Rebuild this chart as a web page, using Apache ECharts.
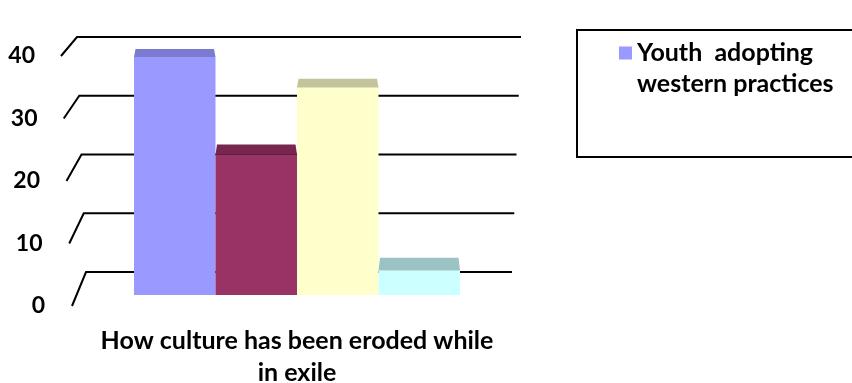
<!DOCTYPE html>
<html>
<head>
<meta charset="utf-8">
<script src="https://cdn.jsdelivr.net/npm/echarts@6/dist/echarts.min.js"></script>
<style>
html,body{margin:0;padding:0;background:#fff;}
#c{width:852px;height:383px;}
</style>
</head>
<body>
<div id="c"></div>
<script>
// ---- data ----
const categories = ['How culture has been eroded while\nin exile'];
const seriesNames = ['Youth  adopting western practices', 'Series 2', 'Series 3', 'Series 4'];
const values = [39, 23, 34, 4];
const yTicks = [0, 10, 20, 30, 40];
const legendShown = ['Youth  adopting western practices'];

// ---- styles ----
const frontColors = ['#9999ff', '#993366', '#ffffcc', '#ccffff'];
const topColors = ['#7b7bd2', '#76264f', '#c4c49c', '#9cc3c3'];
const FONT = 'Lato';
const yMax = 40;

const chart = echarts.init(document.getElementById('c'), null, {renderer: 'canvas'});

const richY = {};
yTicks.forEach(v => {
  richY['p' + v] = {fontFamily: FONT, fontWeight: 'bold', fontSize: 23, color: '#000',
    padding: [0, (v / yMax) * 10, 0, 0]};
});

const option = {
  animation: false,
  backgroundColor: '#fff',
  grid: [
    {left: 80, right: 330, top: 37, bottom: 111, show: false, outerBoundsMode: 'none', containLabel: false},   // back wall
    {left: 46, right: 330, top: 56, bottom: 77, show: false, outerBoundsMode: 'none', containLabel: false},    // front plane (labels)
    {left: 134, right: 392, top: 51, bottom: 88, show: false, outerBoundsMode: 'none', containLabel: false}    // bar plane
  ],
  xAxis: [
    {gridIndex: 0, type: 'category', data: categories, show: false},
    {gridIndex: 1, type: 'category', data: categories, show: false},
    {gridIndex: 2, type: 'category', data: categories,
      axisLine: {show: false}, axisTick: {show: false},
      axisLabel: {margin: 30, fontFamily: FONT, fontWeight: 'bold', fontSize: 25,
        lineHeight: 32, color: '#000', align: 'center'}}
  ],
  yAxis: [
    {gridIndex: 0, type: 'value', min: 0, max: yMax, interval: 10, show: false},
    {gridIndex: 1, type: 'value', min: 0, max: yMax, interval: 10,
      axisLine: {show: false}, axisTick: {show: false}, splitLine: {show: false},
      axisLabel: {margin: 1, formatter: v => '{p' + v + '|' + v + '}', rich: richY}},
    {gridIndex: 2, type: 'value', min: 0, max: yMax, interval: 10, show: false}
  ],
  legend: {
    data: legendShown,
    left: 619, top: 37, padding: 0,
    itemWidth: 13, itemHeight: 43,
    icon: 'path://M0,0L10,0L10,10L0,10Z M0,33L0.01,33L0.01,33.01Z',
    formatter: n => n.replace(' western', '\nwestern'),
    textStyle: {fontFamily: FONT, fontWeight: 'bold', fontSize: 25, lineHeight: 31, color: '#000'},
    selectedMode: false
  },
  series: seriesNames.map((name, i) => ({
    name: name,
    type: 'bar',
    xAxisIndex: 2, yAxisIndex: 2,
    barGap: '0%', barCategoryGap: '0%',
    data: [values[i]],
    itemStyle: {color: frontColors[i]},
    silent: true
  })).concat([{
    type: 'custom',
    xAxisIndex: 2, yAxisIndex: 2,
    silent: true,
    z: 3,
    data: values.map((v, i) => [0, v, i]),
    encode: {x: 0, y: 1},
    renderItem: function (params, api) {
      const cat = api.value(0), v = api.value(1), idx = api.value(2);
      const top = api.coord([cat, v]);
      const base = api.coord([cat, 0]);
      const maxP = api.coord([cat, yMax]);
      const band = api.size([1, 0])[0];
      const w = band / seriesNames.length;
      const x0 = top[0] - band / 2 + idx * w, x1 = x0 + w;
      const frac = (base[1] - top[1]) / (base[1] - maxP[1]);
      const d = 13.5 + (7.9 - 13.5) * frac;
      const inset = 1.5;
      return {
        type: 'polygon',
        shape: {points: [[x0, top[1]], [x1, top[1]], [x1 - inset, top[1] - d], [x0 + inset, top[1] - d]]},
        style: {fill: topColors[idx]}
      };
    }
  }])
};
chart.setOption(option);

// gridlines on the back wall with slanted left parts (positions from the axes)
const lerp = (a, b, t) => a + (b - a) * t;
const graphics = [];
yTicks.forEach(v => {
  const yb = chart.convertToPixel({yAxisIndex: 0}, v);
  const yf = chart.convertToPixel({yAxisIndex: 1}, v);
  const t = v / yMax;
  const xf = lerp(72, 61, t), xb = lerp(86, 77, t), xr = lerp(512, 521, t);
  graphics.push({
    type: 'polyline', z: 0, silent: true,
    shape: {points: [[xf, yf], [xb, yb], [xr, yb]]},
    style: {stroke: '#000', lineWidth: 2, fill: null}
  });
});
graphics.push({
  type: 'rect', z: 0, silent: true,
  shape: {x: 577, y: 30, width: 300, height: 127},
  style: {stroke: '#000', lineWidth: 2, fill: null}
});
chart.setOption({graphic: graphics});
</script>
</body>
</html>
